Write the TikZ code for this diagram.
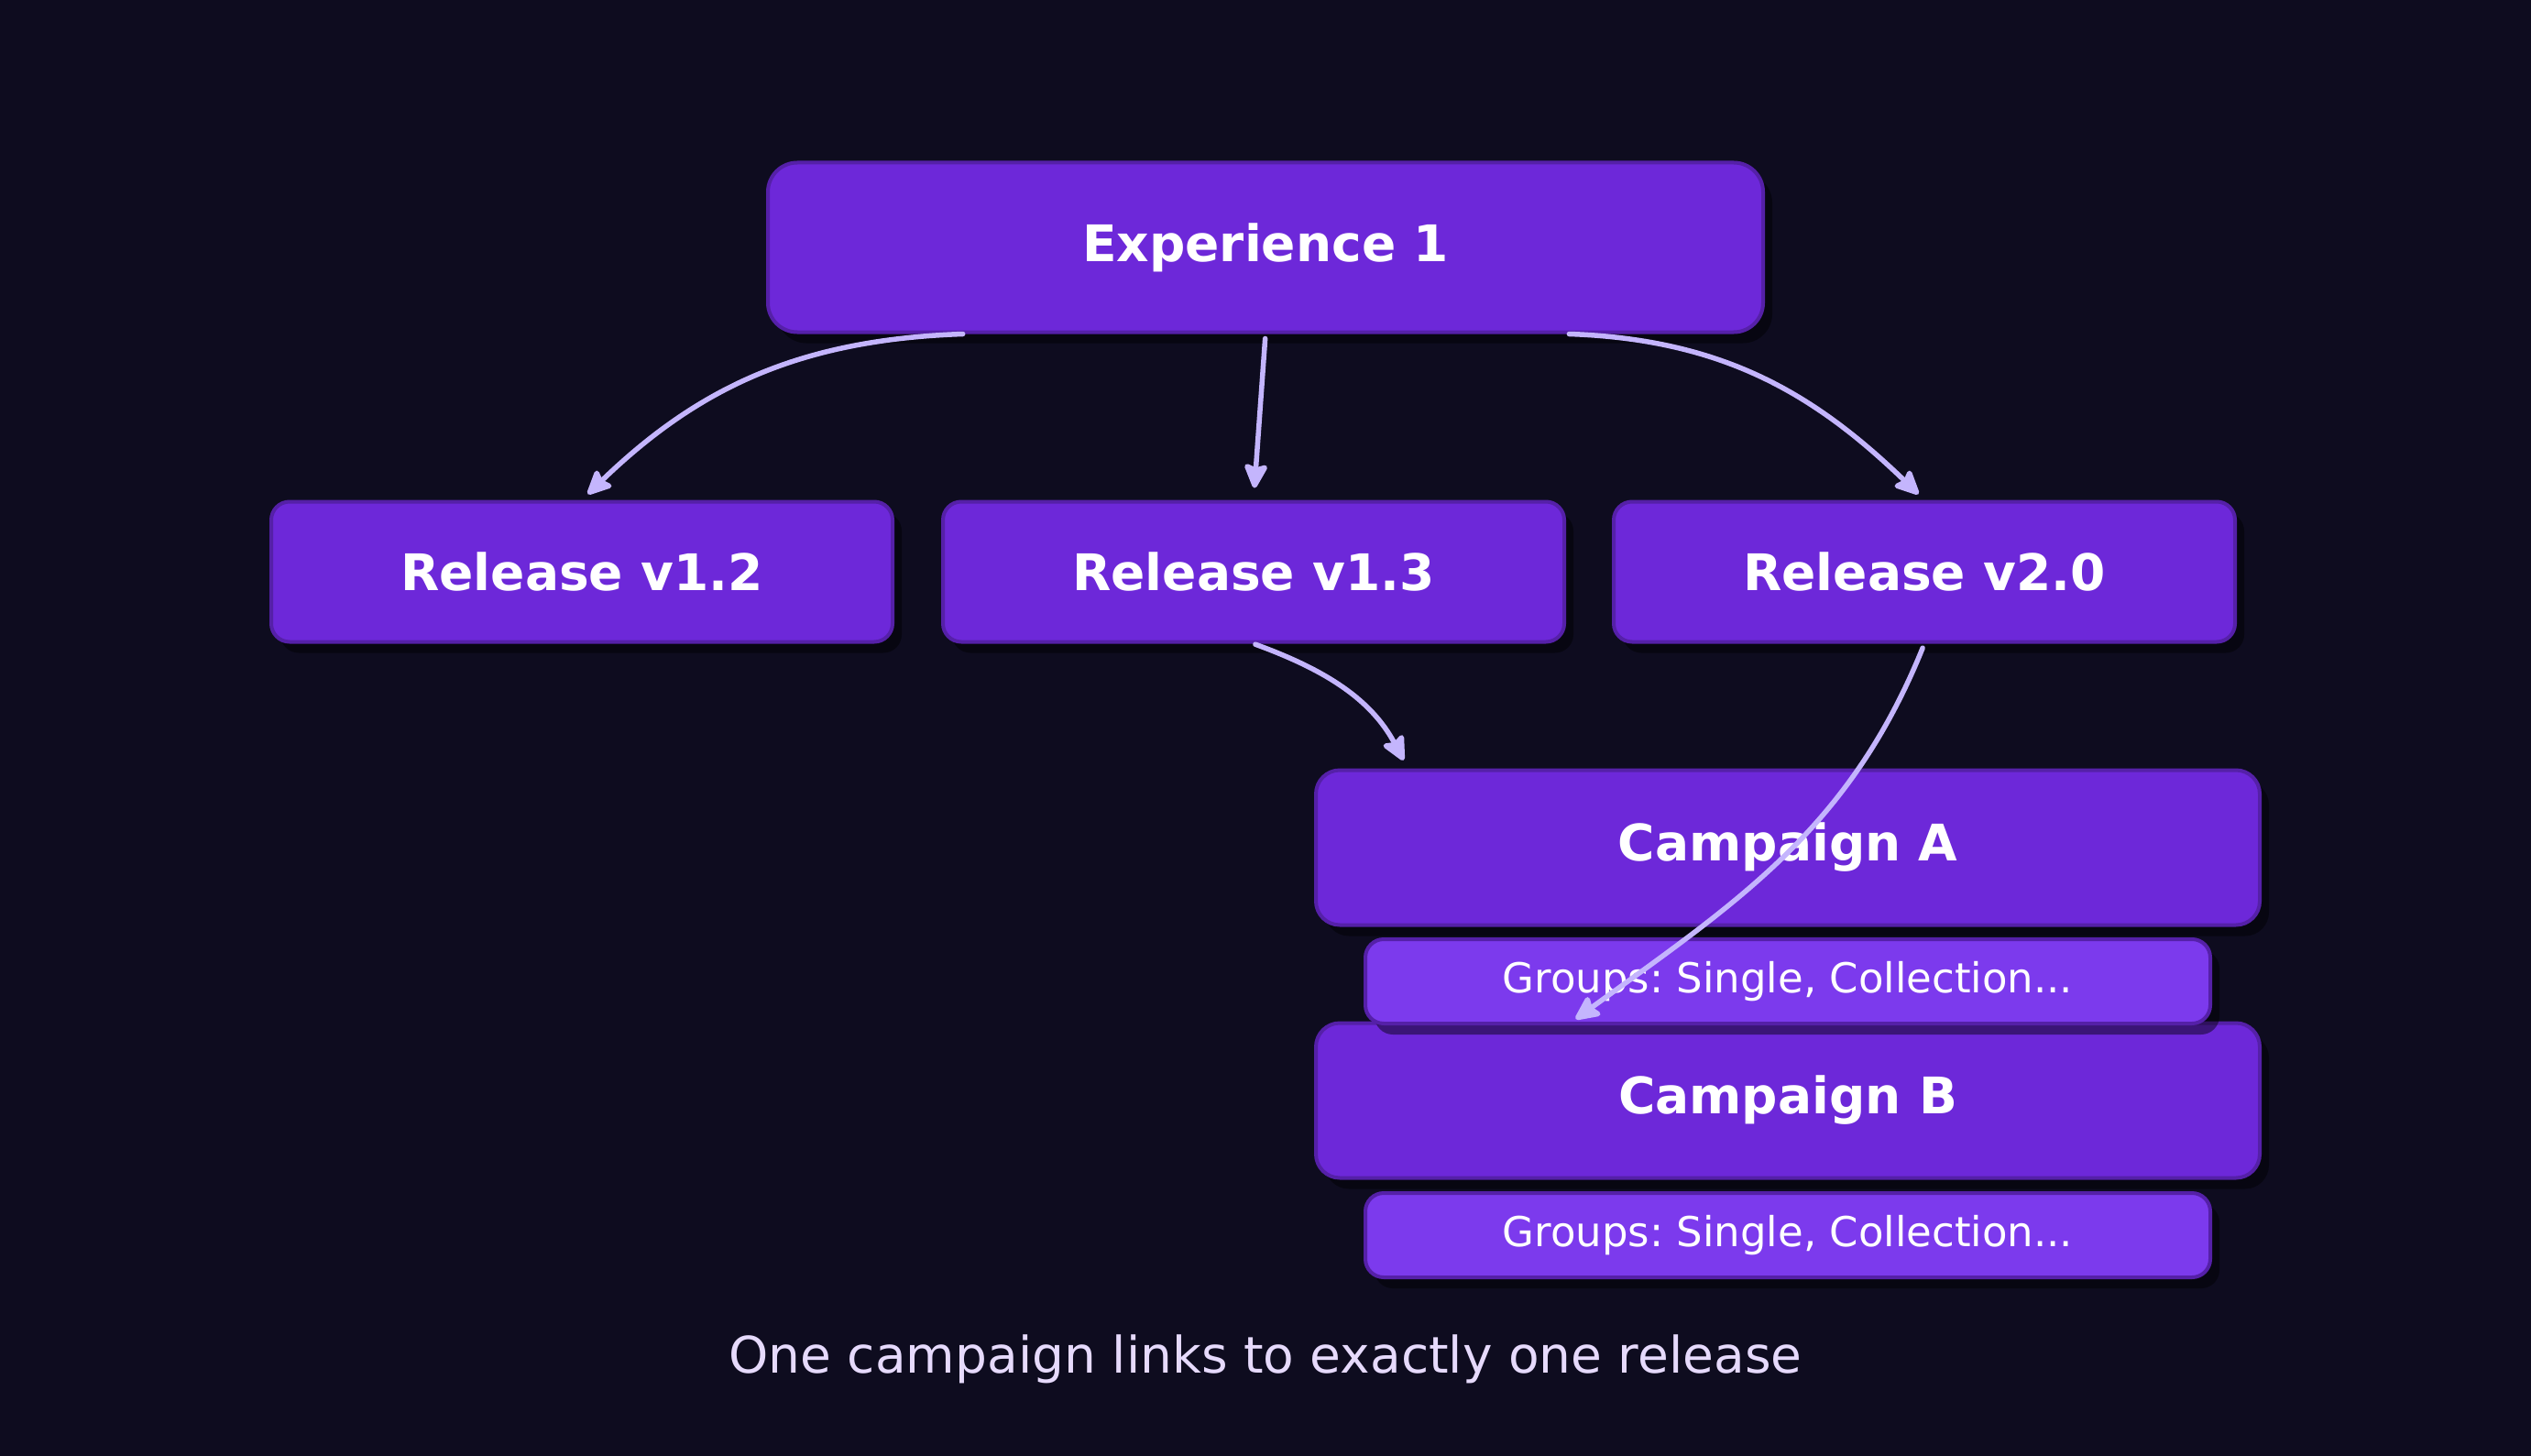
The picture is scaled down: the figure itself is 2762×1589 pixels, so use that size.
\documentclass[tikz,border=0pt]{standalone}
\usepackage{fontspec}
\setmainfont{DejaVu Sans}
\frenchspacing
\usetikzlibrary{arrows.meta,shadows,calc}
\definecolor{bgc}{HTML}{0E0C1F}
\definecolor{boxc}{HTML}{6D28D9}
\definecolor{grpc}{HTML}{7C3AED}
\definecolor{bordc}{HTML}{5520A8}
\definecolor{arrc}{HTML}{C4B5FD}
\definecolor{capc}{HTML}{E6DAFC}
\tikzset{
  box/.style={draw=bordc, line width=4pt, fill=boxc, rounded corners=26pt, inner sep=0pt,
    text=white, drop shadow={shadow xshift=10pt, shadow yshift=-12pt, fill=black, opacity=0.45},
    font=\fontsize{55}{66}\selectfont\bfseries},
  relbox/.style={box, rounded corners=20pt, minimum width=678pt, minimum height=153pt},
  campbox/.style={box, minimum width=1030pt, minimum height=169pt},
  grpbox/.style={box, fill=grpc, rounded corners=20pt, minimum width=922pt, minimum height=92pt,
    font=\fontsize{45}{54}\selectfont},
  conn/.style={draw=arrc, line width=5.5pt, line cap=round,
    -{Stealth[length=31pt,width=29pt,inset=5pt,round]}},
}
\begin{document}
\begin{tikzpicture}[x=1pt,y=1pt]
\useasboundingbox (0,0) rectangle (2762,-1589);
\fill[bgc] (0,0) rectangle (2762,-1589);

\node[box, minimum width=1086pt, minimum height=185pt, rounded corners=32pt] (exp) at (1381,-270) {Experience 1};
\node[relbox] (r12) at (635,-624) {Release v1.2};
\node[relbox] (r13) at (1368,-624) {Release v1.3};
\node[relbox] (r20) at (2100,-624) {Release v2.0};

\node[campbox] (camB) at (1951,-1201) {Campaign B};
\node[campbox] (camA) at (1951,-925) {Campaign A};
\node[grpbox] (grpA) at (1951,-1071) {Groups: Single, Collection...};
\node[grpbox] (grpB) at (1951,-1348) {Groups: Single, Collection...};

\node[text=capc, font=\fontsize{55}{66}\selectfont] (cap) at (1381,-1483) {One campaign links to exactly one release};

\draw[conn, shorten >=9pt] ($(exp.south west)!0.197!(exp.south east)$) to[out=182, in=44] (r12.north);
\draw[conn, shorten <=5pt, shorten >=13pt] (exp.south) -- (r13.north);
\draw[conn, shorten >=9pt] ($(exp.south west)!0.804!(exp.south east)$) to[out=-2, in=136] (r20.north);
\draw[conn, shorten <=2pt, shorten >=10pt] (r13.south) to[out=-20, in=118] ($(camA.north west)!0.099!(camA.north east)$);
\draw[conn, shorten <=5pt, shorten >=4pt] (r20.south) to[out=-112, in=36] ($(camB.north west)!0.273!(camB.north east)$);
\end{tikzpicture}
\end{document}
